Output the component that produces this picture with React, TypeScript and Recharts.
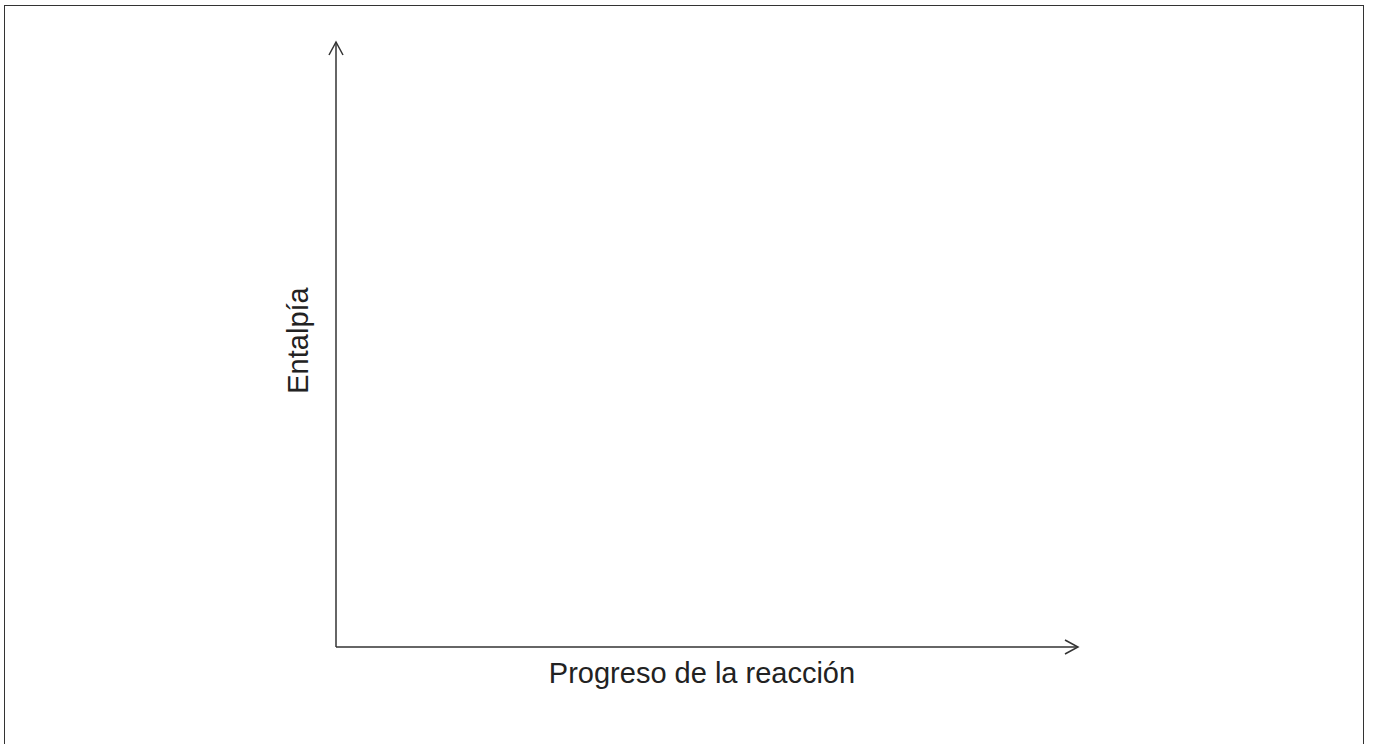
import { Label, Line, LineChart, XAxis, YAxis } from "recharts";

// blank energy diagram: only the two axes and their titles
const progress = [0, 1];
const enthalpy = [null, null];
const xTitle = "Progreso de la reacción";
const yTitle = "Entalpía";

const data = progress.map((p, i) => ({ p, h: enthalpy[i] }));

const INK = "#333333";
const FONT = "'Liberation Sans', Arial, sans-serif";

export default function App() {
  return (
    <div style={{ position: "absolute", left: 0, top: 0, width: 1374, height: 744, overflow: "hidden", background: "#fff" }}>
      <div
        style={{
          position: "absolute",
          left: 4,
          top: 5,
          width: 1360,
          height: 760,
          border: `1.5px solid ${INK}`,
          boxSizing: "border-box",
        }}
      />
      <div style={{ position: "absolute", left: 0, top: 0 }}>
        <LineChart
          width={1374}
          height={744}
          data={data}
          margin={{ top: 42, right: 296, bottom: 37, left: 276 }}
        >
          <defs>
            <marker
              id="arrowHead"
              markerUnits="userSpaceOnUse"
              viewBox="0 0 20 20"
              markerWidth={20}
              markerHeight={20}
              refX={14}
              refY={10}
              orient="auto-start-reverse"
            >
              <path d="M1,3 L14,10 L1,17" fill="none" stroke={INK} strokeWidth={1.5} />
            </marker>
          </defs>
          <XAxis
            dataKey="p"
            type="number"
            domain={[0, 1]}
            height={60}
            tick={false}
            tickLine={false}
            axisLine={{ stroke: INK, strokeWidth: 1.5, markerEnd: "url(#arrowHead)" }}
          >
            <Label
              content={({ viewBox }: any) => (
                <text
                  x={viewBox.x + viewBox.width / 2 - 5}
                  y={viewBox.y + 36}
                  textAnchor="middle"
                  fontFamily={FONT}
                  fontSize={29}
                  fill="#222"
                >
                  {xTitle}
                </text>
              )}
            />
          </XAxis>
          <YAxis
            type="number"
            domain={[0, 1]}
            width={60}
            tick={false}
            tickLine={false}
            axisLine={{ stroke: INK, strokeWidth: 1.5, markerStart: "url(#arrowHead)" }}
          >
            <Label
              content={({ viewBox }: any) => {
                const cx = viewBox.x + viewBox.width - 28;
                const cy = viewBox.y + viewBox.height / 2 - 4;
                return (
                  <text
                    x={cx}
                    y={cy}
                    transform={`rotate(-90 ${cx} ${cy})`}
                    textAnchor="middle"
                    fontFamily={FONT}
                    fontSize={29}
                    fill="#222"
                  >
                    {yTitle}
                  </text>
                );
              }}
            />
          </YAxis>
          <Line dataKey="h" stroke="none" dot={false} isAnimationActive={false} />
        </LineChart>
      </div>
    </div>
  );
}
